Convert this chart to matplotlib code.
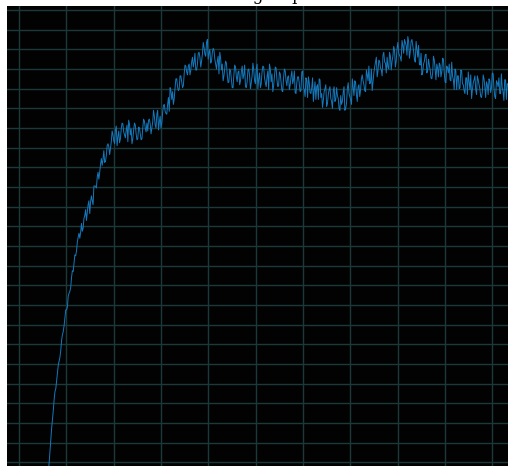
import numpy as np
import matplotlib
matplotlib.use("Agg")
import matplotlib.pyplot as plt

# ---- data ----
title_text = "Mean group return"
step_start = 62.0
step_size = 1.75
# readings at the even sample steps
reward_a = [
    -10, 12, 35, 53, 72, 83, 99, 107, 124, 133,
    147, 155, 169, 174, 188, 194, 211, 215, 229, 228,
    243, 238, 251, 246, 262, 253, 271, 262, 281, 279,
    295, 295, 309, 308, 305, 312, 324, 313, 326, 333,
    324, 342, 331, 325, 339, 344, 333, 338, 326, 344,
    339, 329, 345, 334, 329, 340, 328, 340, 347, 336,
    337, 349, 334, 346, 352, 340, 358, 346, 340, 356,
    364, 355, 364, 357, 378, 377, 370, 390, 382, 380,
    393, 381, 395, 403, 394, 405, 399, 412, 407, 399,
    405, 417, 402, 415, 422, 413, 430, 416, 406, 417,
    419, 405, 408, 395, 411, 405, 393, 408, 394, 387,
    398, 381, 394, 402, 387, 398, 388, 403, 394, 382,
    387, 400, 380, 393, 399, 385, 405, 390, 381, 397,
    402, 386, 392, 379, 400, 395, 383, 402, 389, 383,
    395, 378, 391, 398, 383, 393, 384, 398, 389, 376,
    386, 392, 377, 397, 381, 372, 388, 392, 376, 381,
    367, 387, 382, 369, 389, 375, 368, 380, 362, 374,
    382, 367, 378, 367, 381, 370, 358, 364, 376, 358,
    365, 386, 372, 364, 381, 388, 374, 382, 372, 390,
    388, 378, 399, 388, 385, 400, 387, 402, 412, 398,
    408, 399, 414, 407, 396, 402, 417, 399, 413, 419,
    408, 427, 414, 408, 424, 430, 424, 433, 411, 428,
    424, 410, 428, 412, 405, 416, 397, 408, 415, 399,
    404, 391, 396, 409, 389, 401, 406, 392, 411, 396,
    386, 401, 405, 388, 393, 379, 398, 393, 380, 399,
    385, 378, 391, 374, 387, 394, 379, 389, 379, 393,
    384, 372, 377, 390, 371, 384, 390, 376, 396, 381,
    370, 386, 391, 375, 381, 368, 389, 385, 373, 393,
]
# readings at the odd sample steps (between the above)
reward_b = [
    0, 24, 44, 64, 75, 92, 103, 114, 130, 139,
    155, 158, 172, 178, 195, 202, 210, 224, 233, 234,
    235, 248, 257, 254, 266, 265, 266, 281, 281, 290,
    288, 303, 302, 317, 306, 322, 321, 319, 337, 327,
    338, 322, 337, 329, 345, 336, 330, 343, 348, 333,
    324, 338, 343, 328, 341, 334, 329, 349, 340, 345,
    348, 344, 340, 358, 343, 354, 338, 352, 345, 363,
    357, 354, 371, 381, 369, 364, 381, 390, 378, 393,
    387, 383, 404, 397, 403, 394, 407, 402, 416, 399,
    416, 412, 408, 427, 415, 427, 410, 420, 408, 421,
    410, 400, 413, 417, 399, 388, 401, 406, 386, 400,
    390, 381, 404, 392, 397, 384, 397, 390, 404, 381,
    399, 393, 386, 406, 388, 400, 380, 396, 385, 403,
    391, 382, 398, 405, 387, 377, 393, 401, 382, 397,
    387, 377, 400, 388, 392, 379, 392, 385, 398, 375,
    392, 385, 378, 398, 379, 391, 371, 386, 375, 391,
    378, 369, 384, 390, 371, 361, 377, 384, 365, 379,
    370, 360, 382, 369, 373, 360, 373, 367, 382, 360,
    380, 375, 369, 390, 373, 386, 367, 384, 379, 394,
    384, 377, 394, 403, 386, 378, 396, 407, 392, 409,
    401, 393, 417, 406, 412, 400, 413, 408, 423, 402,
    421, 416, 412, 429, 416, 427, 414, 428, 418, 430,
    418, 407, 420, 424, 404, 394, 405, 414, 396, 410,
    399, 390, 413, 400, 405, 392, 404, 397, 410, 387,
    403, 396, 389, 407, 389, 400, 379, 393, 381, 398,
    384, 375, 391, 397, 379, 370, 386, 393, 374, 389,
    380, 371, 394, 382, 387, 374, 388, 381, 395, 372,
    388, 382, 375, 395, 377, 389, 369, 385, 374, 392,
]
reward = np.column_stack([reward_a, reward_b]).ravel()
steps = step_start + step_size * np.arange(len(reward))
x_ticks = list(range(0, 1001, 100))
y_ticks = list(range(0, 461, 20))

# ---- figure ----
W, H = 508, 466
fig = plt.figure(figsize=(W / 100, H / 100), dpi=100)
fig.patch.set_facecolor("white")
ax = fig.add_axes([7 / W, 0, (W - 7) / W, (H - 6) / H])
ax.set_facecolor("#020202")

ax.plot(steps, reward, color="#1479bd", lw=0.7, zorder=3)

ax.set_xlim(-25.35, 1033.2)
ax.set_ylim(-3.66, 464.05)
ax.set_xticks(x_ticks)
ax.set_yticks(y_ticks)
ax.grid(True, color="#1c3838", lw=1.0, zorder=1)
ax.set_axisbelow(True)
ax.tick_params(length=0, labelbottom=False, labelleft=False)
for s in ax.spines.values():
    s.set_visible(False)

fig.text(200 / W, 1.0, title_text, family="DejaVu Serif", fontsize=12,
         ha="left", va="baseline", color="black")

fig.savefig("out.png", dpi=100, facecolor=fig.get_facecolor())
